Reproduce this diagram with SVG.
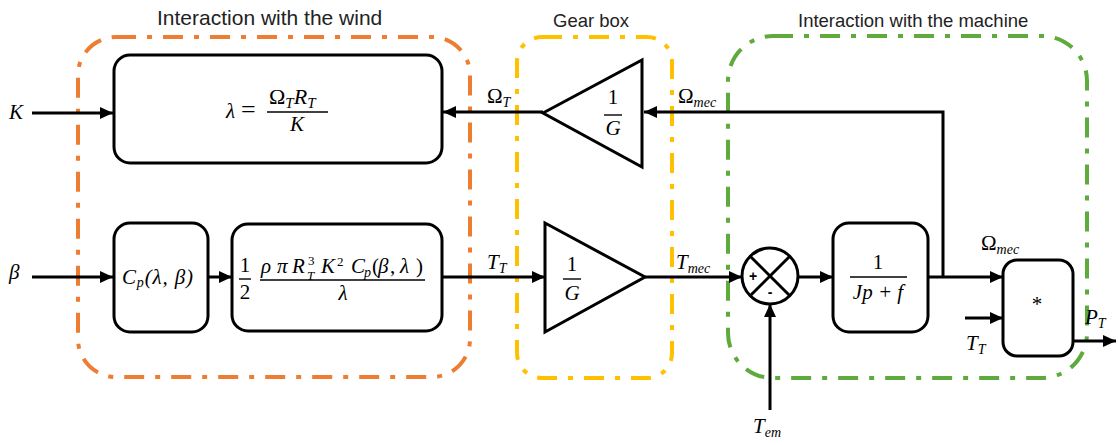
<svg xmlns="http://www.w3.org/2000/svg" width="1118" height="445" viewBox="0 0 1118 445">
<defs>
<marker id="arr" markerUnits="userSpaceOnUse" markerWidth="14" markerHeight="12" refX="13" refY="6" orient="auto">
<path d="M0,0 L13,6 L0,12 z" fill="#000"/>
</marker>
<style>
.title{font-family:"Liberation Sans",Arial,sans-serif;fill:#222}
.m{font-family:"Liberation Serif","Times New Roman",serif;font-style:italic;font-size:21px;fill:#000}
.u{font-family:"Liberation Serif","Times New Roman",serif;font-size:21px;fill:#000}
.s{font-size:14px}
.xs{font-size:13px}
.blk{fill:#fff;stroke:#000;stroke-width:3}
.grp{fill:none;stroke-width:4;stroke-dasharray:20 11 5 11}
.ln{fill:none;stroke:#000;stroke-width:3}
.bar{stroke:#000;stroke-width:1.4}
</style>
</defs>
<rect width="1118" height="445" fill="#fff"/>

<g id="group-wind">
<rect class="grp" x="78" y="37" width="392" height="340" rx="38" stroke="#ED7D31"/>
<text class="title" x="157" y="25" font-size="21">Interaction with the wind</text>
</g>
<g id="group-gearbox">
<rect class="grp" x="517" y="37" width="155" height="341" rx="25" stroke="#FFC000"/>
<text class="title" x="553" y="27" font-size="18.5">Gear box</text>
</g>
<g id="group-machine">
<rect class="grp" x="728" y="36" width="359" height="342" rx="45" stroke="#5EAA3C"/>
<text class="title" x="798" y="27" font-size="18.5">Interaction with the machine</text>
</g>

<g id="connectors">
<line class="ln" x1="32" y1="113" x2="113" y2="113" marker-end="url(#arr)"/>
<polyline class="ln" points="943,277 943,112 644,112" marker-end="url(#arr)"/>
<line class="ln" x1="543" y1="112" x2="443" y2="112" marker-end="url(#arr)"/>
<line class="ln" x1="32" y1="277" x2="113" y2="277" marker-end="url(#arr)"/>
<line class="ln" x1="208" y1="277" x2="232" y2="277" marker-end="url(#arr)"/>
<line class="ln" x1="442" y1="277" x2="545" y2="277" marker-end="url(#arr)"/>
<line class="ln" x1="645" y1="277" x2="742" y2="277" marker-end="url(#arr)"/>
<line class="ln" x1="770" y1="410" x2="770" y2="304" marker-end="url(#arr)"/>
<line class="ln" x1="798" y1="277" x2="833" y2="277" marker-end="url(#arr)"/>
<line class="ln" x1="928" y1="277" x2="1003" y2="277" marker-end="url(#arr)"/>
<line class="ln" x1="965" y1="318" x2="1003" y2="318" marker-end="url(#arr)"/>
<line class="ln" x1="1073" y1="341" x2="1116" y2="341" marker-end="url(#arr)"/>
</g>

<g id="labels">
<text class="m" x="9" y="119">K</text>
<text class="m" x="9" y="279">β</text>
<text class="u" x="487" y="103">Ω<tspan class="m s" dy="4">T</tspan></text>
<text class="u" x="678" y="103">Ω<tspan class="m s" dy="4">mec</tspan></text>
<text class="m" x="487" y="269">T<tspan class="s" dy="4">T</tspan></text>
<text class="m" x="676" y="269">T<tspan class="s" dy="4">mec</tspan></text>
<text class="m" x="753" y="433">T<tspan class="s" dy="4">em</tspan></text>
<text class="u" x="981" y="250">Ω<tspan class="m s" dy="4">mec</tspan></text>
<text class="m" x="966" y="350">T<tspan class="s" dy="4">T</tspan></text>
<text class="m" x="1085" y="324">P<tspan class="s" dy="4">T</tspan></text>
</g>

<g id="node-lambda">
<rect class="blk" x="114" y="55" width="328" height="108" rx="16"/>
<text class="m" x="226" y="118">λ</text>
<text class="u" x="241" y="118" style="font-size:26px">=</text>
<line class="bar" x1="267" y1="112" x2="328" y2="112"/>
<text class="u" x="269" y="104" style="font-size:22px">Ω<tspan class="m" dy="4" style="font-size:15px">T</tspan><tspan class="m" dy="-4" style="font-size:22px">R</tspan><tspan class="m" dy="4" style="font-size:15px">T</tspan></text>
<text class="m" x="297" y="131" text-anchor="middle">K</text>
</g>

<g id="node-cp">
<rect class="blk" x="114" y="223" width="94" height="109" rx="16"/>
<text class="m" x="122" y="284" textLength="71" lengthAdjust="spacing">C<tspan class="s" dy="3">p</tspan><tspan class="u" dy="-3">(</tspan>λ, β<tspan class="u">)</tspan></text>
</g>

<g id="node-torque">
<rect class="blk" x="232" y="224" width="210" height="107" rx="16"/>
<text class="u" x="245" y="272" text-anchor="middle">1</text>
<line class="bar" x1="239" y1="279" x2="251" y2="279"/>
<text class="u" x="245" y="299" text-anchor="middle">2</text>
<line class="bar" x1="260" y1="280" x2="425" y2="280"/>
<text class="m" x="261" y="273">ρ</text>
<text class="m" x="277" y="273">π</text>
<text class="m" x="292" y="273">R</text>
<text class="u xs" x="308" y="265">3</text>
<text class="m xs" x="307" y="280">T</text>
<text class="m" x="321" y="273">K</text>
<text class="u xs" x="337" y="266">2</text>
<text class="m" x="351" y="273">C</text>
<text class="m s" x="364" y="277">p</text>
<text class="u" x="372" y="273">(</text>
<text class="m" x="378" y="273">β</text>
<text class="u" x="390" y="273">,</text>
<text class="m" x="400" y="273">λ</text>
<text class="u" x="416" y="273">)</text>
<text class="m" x="343" y="300" text-anchor="middle">λ</text>
</g>

<g id="node-gain-speed">
<polygon class="blk" points="543,113 642,60 642,167"/>
<text class="u" x="613" y="104" text-anchor="middle">1</text>
<line class="bar" x1="604" y1="115" x2="622" y2="115"/>
<text class="m" x="613" y="135" text-anchor="middle">G</text>
</g>

<g id="node-gain-torque">
<polygon class="blk" points="545,223 645,277 545,332"/>
<text class="u" x="572" y="271" text-anchor="middle">1</text>
<line class="bar" x1="563" y1="279" x2="581" y2="279"/>
<text class="m" x="572" y="300" text-anchor="middle">G</text>
</g>

<g id="node-sum">
<circle class="blk" cx="770" cy="276" r="28"/>
<line class="ln" x1="750.2" y1="256.2" x2="789.8" y2="295.8"/>
<line class="ln" x1="789.8" y1="256.2" x2="750.2" y2="295.8"/>
<text x="753" y="281" font-family="Liberation Sans,Arial,sans-serif" font-size="14" font-weight="bold" text-anchor="middle">+</text>
<text x="770" y="297" font-family="Liberation Sans,Arial,sans-serif" font-size="14" font-weight="bold" text-anchor="middle">-</text>
</g>

<g id="node-inertia">
<rect class="blk" x="833" y="223" width="95" height="109" rx="16"/>
<text class="u" x="878" y="269" text-anchor="middle">1</text>
<line class="bar" x1="850" y1="277" x2="907" y2="277"/>
<text class="m" x="878" y="299" text-anchor="middle">Jp <tspan class="u">+</tspan> f</text>
</g>

<g id="node-product">
<rect class="blk" x="1003" y="260" width="70" height="96" rx="14"/>
<text class="u" x="1037" y="311" text-anchor="middle">*</text>
</g>
</svg>
